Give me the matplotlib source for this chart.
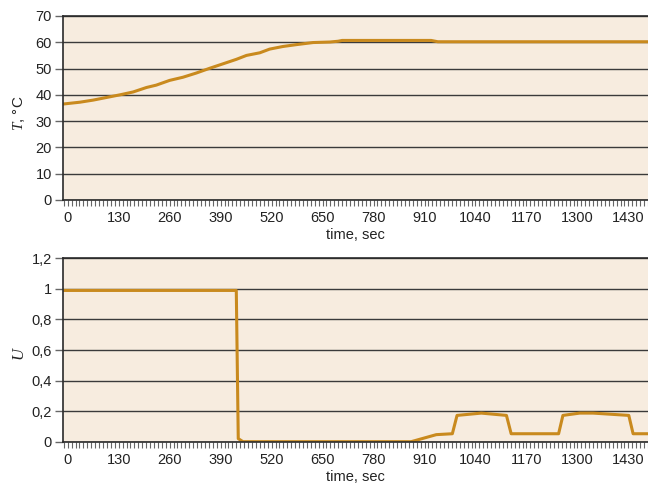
import matplotlib
matplotlib.use("Agg")
import matplotlib.pyplot as plt
from matplotlib.ticker import MultipleLocator, FixedLocator


OUTPUT_FILE = "out.png"

# temperature curve
time_T = [-12, 31, 65, 99, 133, 167, 201, 226, 260, 294, 328, 362, 396, 430,
          456, 490, 515, 549, 583, 626, 669, 690, 700, 927, 944, 1480]
temp_T = [36.5, 37.2, 38.0, 39.0, 40.0, 41.1, 42.8, 43.7, 45.5, 46.7, 48.3,
          50.1, 51.8, 53.5, 55.0, 56.0, 57.4, 58.4, 59.1, 59.9, 60.1, 60.4,
          60.7, 60.7, 60.2, 60.2]

# control signal, lower panel
time_U = [-12, 430, 435, 447, 876, 940, 981, 993, 1055, 1119, 1131, 1252,
          1263, 1306, 1340, 1431, 1442, 1480]
u_vals = [0.99, 0.99, 0.02, 0.0, 0.0, 0.046, 0.052, 0.172, 0.187, 0.172,
          0.052, 0.052, 0.172, 0.187, 0.187, 0.172, 0.052, 0.052]

x_ticks = list(range(0, 1431, 130))
T_ticks = list(range(0, 71, 10))
U_ticks = [0, 0.2, 0.4, 0.6, 0.8, 1.0, 1.2]
U_labels = ["0", "0,2", "0,4", "0,6", "0,8", "1", "1,2"]

BG = "#f7ecdf"
LINE = "#c98a1e"
GRID = "#3a3a3a"
TICK = "#666666"

plt.rcParams["font.family"] = ["Liberation Sans", "DejaVu Sans"]
plt.rcParams["mathtext.fontset"] = "custom"
plt.rcParams["mathtext.it"] = "Liberation Serif:italic"
plt.rcParams["mathtext.rm"] = "Liberation Sans"


def style_axes(ax):
    ax.set_facecolor(BG)
    ax.set_xlim(-12, 1480)
    ax.xaxis.set_major_locator(FixedLocator(x_ticks))
    ax.xaxis.set_minor_locator(MultipleLocator(10))
    ax.tick_params(axis="x", which="both", direction="out", length=4,
                   width=0.8, color=TICK, labelsize=10.5, pad=4,
                   labelcolor="#222222")
    ax.tick_params(axis="y", direction="out", length=6, width=1,
                   color=TICK, labelsize=10.5, pad=2, labelcolor="#222222")
    ax.grid(axis="y", color=GRID, linewidth=1)
    ax.set_axisbelow(True)
    ax.spines["right"].set_visible(False)
    for side in ["left", "top", "bottom"]:
        ax.spines[side].set_color("#2a2a2a")
        ax.spines[side].set_linewidth(1.2)
    ax.set_xlabel("time, sec", fontsize=10.5, color="#222222", labelpad=2)


def main():
    fig = plt.figure(figsize=(6.48, 4.86), dpi=100)

    ax1 = fig.add_axes([0.0972, 0.5885, 0.9028, 0.3786])
    style_axes(ax1)
    ax1.plot(time_T, temp_T, color=LINE, linewidth=2.2)
    ax1.set_ylim(0, 70)
    ax1.set_yticks(T_ticks)
    ax1.set_ylabel(r"$T$, °C", fontsize=11, color="#222222")
    ax1.yaxis.set_label_coords(-0.0615, 0.47)

    ax2 = fig.add_axes([0.0972, 0.0912, 0.9028, 0.3772])
    style_axes(ax2)
    ax2.plot(time_U, u_vals, color=LINE, linewidth=2.2)
    ax2.set_ylim(0, 1.2)
    ax2.set_yticks(U_ticks)
    ax2.set_yticklabels(U_labels)
    ax2.set_ylabel(r"$U$", fontsize=12, color="#222222")
    ax2.yaxis.set_label_coords(-0.0615, 0.48)

    fig.savefig(OUTPUT_FILE, dpi=100)
    plt.close(fig)


if __name__ == "__main__":
    main()
